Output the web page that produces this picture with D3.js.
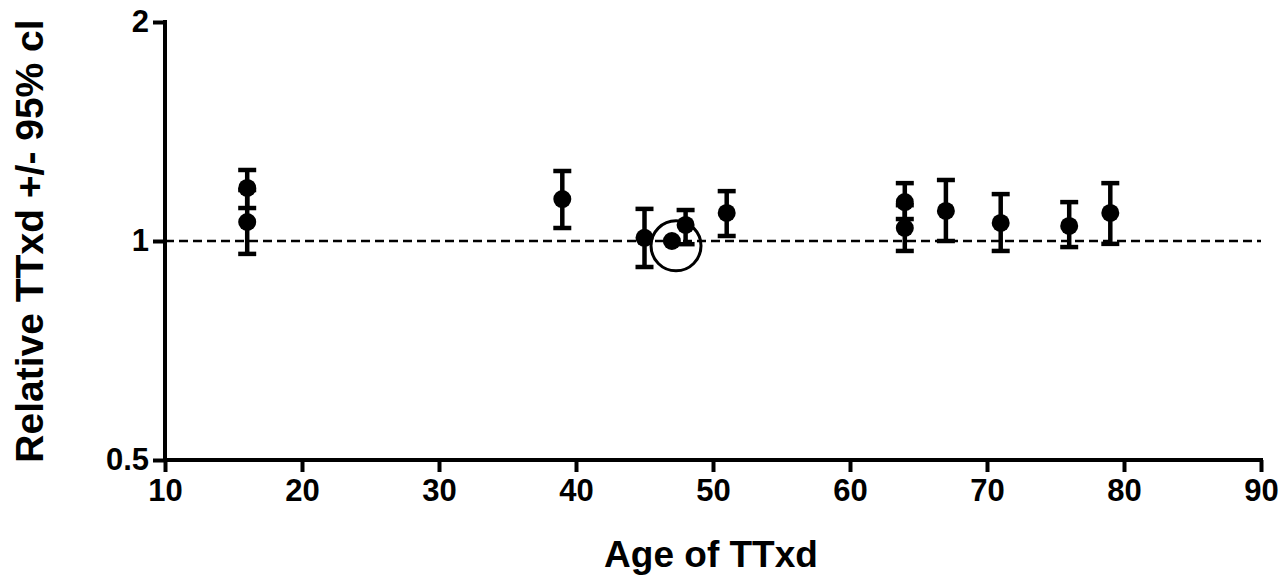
<!DOCTYPE html>
<html>
<head>
<meta charset="utf-8">
<script src="https://cdn.jsdelivr.net/npm/d3@7/dist/d3.min.js"></script>
<style>
  body { margin: 0; background: #fff; }
  svg text { font-family: Arial, "Liberation Sans", sans-serif; font-weight: bold; fill: #000; }
</style>
</head>
<body>
<div id="chart"></div>
<script>
'use strict';

// data
const ages = [16, 16, 39, 45, 47, 48, 51, 64, 64, 67, 71, 76, 79];
const relTTxd = [1.183, 1.062, 1.142, 1.010, 1.0, 1.052, 1.093, 1.131, 1.042, 1.100, 1.059, 1.049, 1.093];
const ciLow = [1.110, 0.960, 1.042, 0.921, 1.0, 0.990, 1.016, 1.072, 0.969, 1.000, 0.969, 0.981, 0.991];
const ciHigh = [1.252, 1.175, 1.248, 1.107, 1.0, 1.103, 1.171, 1.201, 1.120, 1.213, 1.160, 1.131, 1.201];
const xTicks = [10, 20, 30, 40, 50, 60, 70, 80, 90];
const yTicks = [0.5, 1, 2];
const refLine = 1;
const highlight = [47.3, 0.985];

const width = 1284, height = 576;
const margin = {top: 22, right: 23, bottom: 116, left: 165};

const svg = d3.select('#chart')
  .append('svg')
    .attr('width', width)
    .attr('height', height);

const x = d3.scaleLinear()
    .domain([10, 90])
    .range([margin.left, width - margin.right]);

const y = d3.scaleLog()
    .base(2)
    .domain([0.5, 2])
    .range([height - margin.bottom, margin.top]);

// reference line at 1
svg.append('line')
    .attr('x1', x(10))
    .attr('x2', x(90))
    .attr('y1', y(refLine))
    .attr('y2', y(refLine))
    .attr('stroke', '#000')
    .attr('stroke-width', 2.5)
    .attr('stroke-dasharray', '9,5');

// axes
const xAxis = svg.append('g')
    .attr('transform', `translate(0, ${y(0.5)})`)
    .call(d3.axisBottom(x).tickValues(xTicks).tickSize(12).tickPadding(7).tickFormat(d3.format('d')));

const yAxis = svg.append('g')
    .attr('transform', `translate(${x(10)}, 0)`)
    .call(d3.axisLeft(y).tickValues(yTicks).tickSize(12).tickPadding(4).tickFormat(d => String(d)));

[xAxis, yAxis].forEach(ax => {
  ax.select('.domain').attr('stroke-width', 4).attr('stroke', '#000');
  ax.selectAll('.tick line').attr('stroke-width', 4).attr('stroke', '#000');
  ax.selectAll('.tick text').style('font-size', '31px').attr('fill', '#000');
});
// plain axis lines without outer stubs
xAxis.select('.domain').attr('d', `M${x(10) - 2},0H${x(90) + 2}`);
yAxis.select('.domain').attr('d', `M0,${y(0.5) + 2}V${y(2) - 2}`);

// error bars
const idx = d3.range(ages.length).filter(i => ciLow[i] !== ciHigh[i]);
const bars = svg.append('g').attr('stroke', '#000').attr('stroke-width', 4.5);

bars.selectAll('.stem')
  .data(idx)
  .join('line')
    .attr('x1', i => x(ages[i]))
    .attr('x2', i => x(ages[i]))
    .attr('y1', i => y(ciLow[i]))
    .attr('y2', i => y(ciHigh[i]));

bars.selectAll('.capHi')
  .data(idx)
  .join('line')
    .attr('x1', i => x(ages[i]) - 9)
    .attr('x2', i => x(ages[i]) + 9)
    .attr('y1', i => y(ciHigh[i]))
    .attr('y2', i => y(ciHigh[i]));

bars.selectAll('.capLo')
  .data(idx)
  .join('line')
    .attr('x1', i => x(ages[i]) - 9)
    .attr('x2', i => x(ages[i]) + 9)
    .attr('y1', i => y(ciLow[i]))
    .attr('y2', i => y(ciLow[i]));

// points
svg.append('g')
  .selectAll('circle')
  .data(ages)
  .join('circle')
    .attr('cx', d => x(d))
    .attr('cy', (d, i) => y(relTTxd[i]))
    .attr('r', 9)
    .attr('fill', '#000');

// circled reference sample
svg.append('circle')
    .attr('cx', x(highlight[0]))
    .attr('cy', y(highlight[1]))
    .attr('r', 25)
    .attr('fill', 'none')
    .attr('stroke', '#000')
    .attr('stroke-width', 3);

// axis titles
svg.append('text')
    .attr('x', 711)
    .attr('y', 567)
    .attr('text-anchor', 'middle')
    .style('font-size', '37px')
    .text('Age of TTxd');

svg.append('text')
    .attr('transform', `translate(43, ${y(1)}) rotate(-90)`)
    .attr('text-anchor', 'middle')
    .style('font-size', '39px')
    .text('Relative TTxd +/- 95% cl');
</script>
</body>
</html>
